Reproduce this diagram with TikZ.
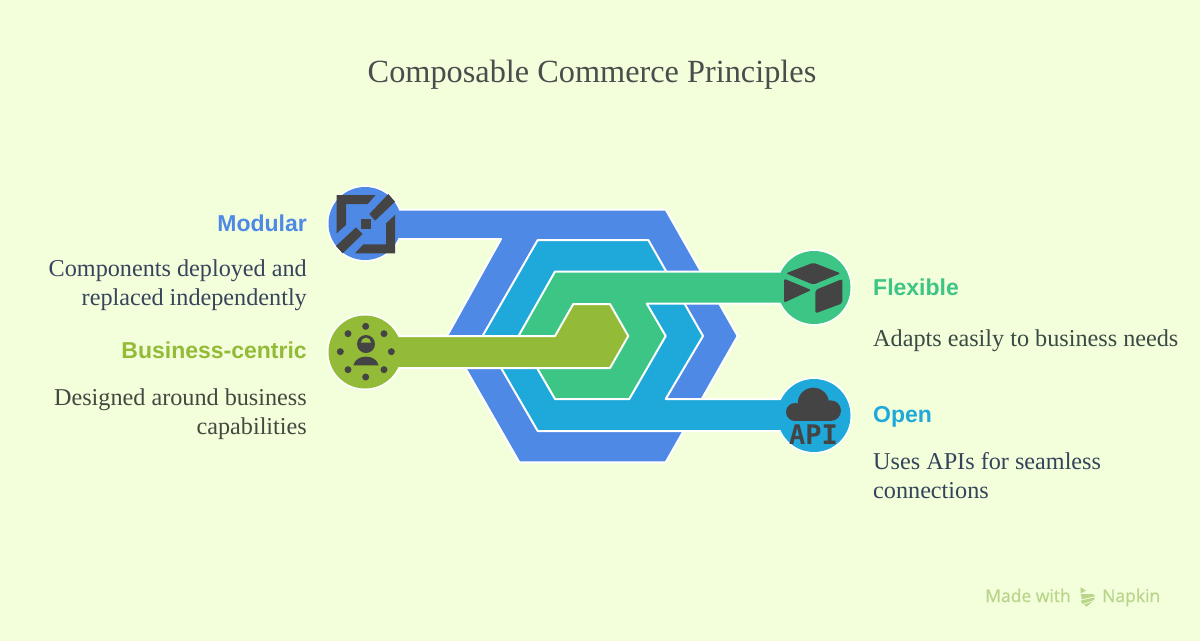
\documentclass[tikz,border=0pt]{standalone}
\usepackage{fontspec}
\setmainfont{Liberation Serif}
\newfontfamily\headfont{Liberation Sans}
\newfontfamily\markfont[FakeBold=0.6]{Open Sans}
\newfontfamily\apifont{DejaVu Sans Mono}
\usetikzlibrary{positioning}
\definecolor{pagebg}{HTML}{F3FEDB}
\definecolor{modularblue}{HTML}{4F89E6}
\definecolor{opencyan}{HTML}{1FA9DA}
\definecolor{flexgreen}{HTML}{3DC585}
\definecolor{bizolive}{HTML}{94BB37}
\definecolor{icondark}{HTML}{444444}
\definecolor{titleink}{HTML}{4A4D4C}
\definecolor{modularink}{HTML}{38445C}
\definecolor{bizink}{HTML}{44483F}
\definecolor{flexink}{HTML}{3A4A44}
\definecolor{openink}{HTML}{33445A}
\definecolor{marktext}{HTML}{B8D58A}
\begin{document}
\begin{tikzpicture}
                %% setup
                [
                    x=1pt, y=-1pt,
                    ringnode/.style={circle, draw=white, line width=2.4pt, minimum size=74pt, inner sep=0pt},
                    bandshape/.style={draw=white, line width=2pt, line join=round},
                    headlabel/.style={font=\headfont\bfseries\fontsize{23}{28}\selectfont, inner sep=0pt},
                    bodylabel/.style={font=\fontsize{24.2}{28.6}\selectfont, inner sep=0pt},
                    marklabel/.style={font=\markfont\fontsize{17.5}{20}\selectfont, text=marktext, inner sep=0pt, anchor=base west},
                    iconpart/.style={fill=icondark},
                ]
                    \useasboundingbox (0,0) rectangle (1200,641);
                    \fill[pagebg] (0,0) rectangle (1200,641);

                    %% Circles
                    \node [ringnode, fill=modularblue] (modular) at (365,223.5) {};
                    \node [ringnode, fill=bizolive] (business) at (365,352) {};
                    \node [ringnode, fill=flexgreen] (flexible) at (814,287.5) {};
                    \node [ringnode, fill=opencyan] (open) at (814,415.5) {};

                    %% Bands
                    \draw[bandshape, fill=modularblue] (365,209.5) -- (665.7,209.5) -- (737.7,336) -- (665.7,462.3) -- (519.3,462.3) -- (447,336) -- (501,239) -- (365,239) -- cycle;
                    \draw[bandshape, fill=opencyan] (537.7,240) -- (648.3,240) -- (703,336) -- (665.7,399) -- (814,399) -- (814,431) -- (537.7,431) -- (482.5,336) -- cycle;
                    \draw[bandshape, fill=flexgreen] (555,271.5) -- (814,271.5) -- (814,303.5) -- (646.7,303.5) -- (665.7,336) -- (629.3,399) -- (555,399) -- (518.5,336) -- cycle;
                    \draw[bandshape, fill=bizolive] (365,336) -- (555,336) -- (573.3,304) -- (610,304) -- (628.3,336) -- (610,368) -- (365,368) -- cycle;
                    \fill[modularblue] (modular) circle (36.5);
                    \fill[bizolive] (business) circle (36.5);
                    \fill[flexgreen] (flexible) circle (36.5);
                    \fill[opencyan] (open) circle (36.5);

                    %% Modular icon
                    \begin{scope}[shift={(320,170)}, scale=1/3]
                    \fill[iconpart] (50,75) -- (167,75) -- (143,102) -- (78,102) -- (78,165) -- (50,190) -- cycle;
                    \fill[iconpart] (225,135) -- (225,250) -- (105,250) -- (130,223) -- (198,223) -- (198,160) -- cycle;
                    \fill[iconpart] (205,72) -- (225,95) -- (165,152) -- (148,132) -- cycle;
                    \fill[iconpart] (108,172) -- (128,192) -- (68,250) -- (48,228) -- cycle;
                    \fill[iconpart] (122,148) rectangle (152,176);
                    %% Business icon
                    \foreach \dotx/\doty in {137/469,84/491,192/491,61/545,214/545,84/599,192/599,137/621}
                        \fill[iconpart] (\dotx,\doty) circle (10.5);
                    \fill[iconpart] (138,522) circle (27);
                    \fill[bizolive] (123,518) -- (153,518) arc[start angle=0, end angle=-180, radius=15] -- cycle;
                    \fill[iconpart] (100,586) .. controls (108,551) and (168,551) .. (176,586) -- cycle;
                    \end{scope}

                    %% Flexible and Open icons
                    \begin{scope}[shift={(740,240)}, scale=1/3]
                    \fill[iconpart, rounded corners=2pt] (220,68) -- (302,100) -- (220,134) -- (138,100) -- cycle;
                    \fill[iconpart, rounded corners=2pt] (132,116) -- (214,150) -- (132,188) -- cycle;
                    \fill[iconpart, rounded corners=2pt] (307,117) -- (307,190) -- (226,220) -- (226,150) -- cycle;
                    \fill[iconpart] (220,490) circle (47);
                    \fill[iconpart] (165,516) circle (27);
                    \fill[iconpart] (272,512) circle (31);
                    \fill[iconpart] (165,500) rectangle (272,543);
                    \end{scope}
                    \node [text=icondark, inner sep=0pt, font=\apifont\bfseries\fontsize{27}{27}\selectfont] (apitext) at (813.5,435) {API};

                    %% Texts
                    \node [font=\fontsize{32.3}{36}\selectfont, text=titleink, inner sep=0pt, anchor=base] (title) at (592,82.3) {Composable Commerce Principles};
                    \node [headlabel, text=modularblue, anchor=base east] (modularhead) at (307,231) {Modular};
                    \node [bodylabel, text=modularink, align=right, anchor=base east] (modularbody) at (307,305) {Components deployed and\\replaced independently};
                    \node [headlabel, text=bizolive, anchor=base east] (businesshead) at (307,358.3) {Business-centric};
                    \node [bodylabel, text=bizink, align=right, anchor=base east] (businessbody) at (307,434) {Designed around business\\capabilities};
                    \node [headlabel, text=flexgreen, anchor=base west] (flexiblehead) at (873,295.5) {Flexible};
                    \node [bodylabel, text=flexink, anchor=base west] (flexiblebody) at (873,346.7) {Adapts easily to business needs};
                    \node [headlabel, text=opencyan, anchor=base west] (openhead) at (873,422.7) {Open};
                    \node [bodylabel, text=openink, align=left, anchor=base west] (openbody) at (873,498.5) {Uses APIs for seamless\\connections};

                    %% Footer mark
                    \node [marklabel] (madewith) at (985,602) {Made with};
                    \node [marklabel] (napkin) at (1102,602) {Napkin};
                    \begin{scope}[shift={(960,570)}, scale=1/3]
                    \fill[marktext] (362,52) -- (378,62) -- (362,70) -- cycle;
                    \fill[marktext] (362,72) -- (398,72) -- (406,78) -- (366,88) -- cycle;
                    \fill[marktext] (362,92) -- (404,82) -- (402,90) -- (368,102) -- cycle;
                    \fill[marktext] (372,104) -- (398,94) -- (380,110) -- cycle;
                    \end{scope}
                \end{tikzpicture}
\end{document}
